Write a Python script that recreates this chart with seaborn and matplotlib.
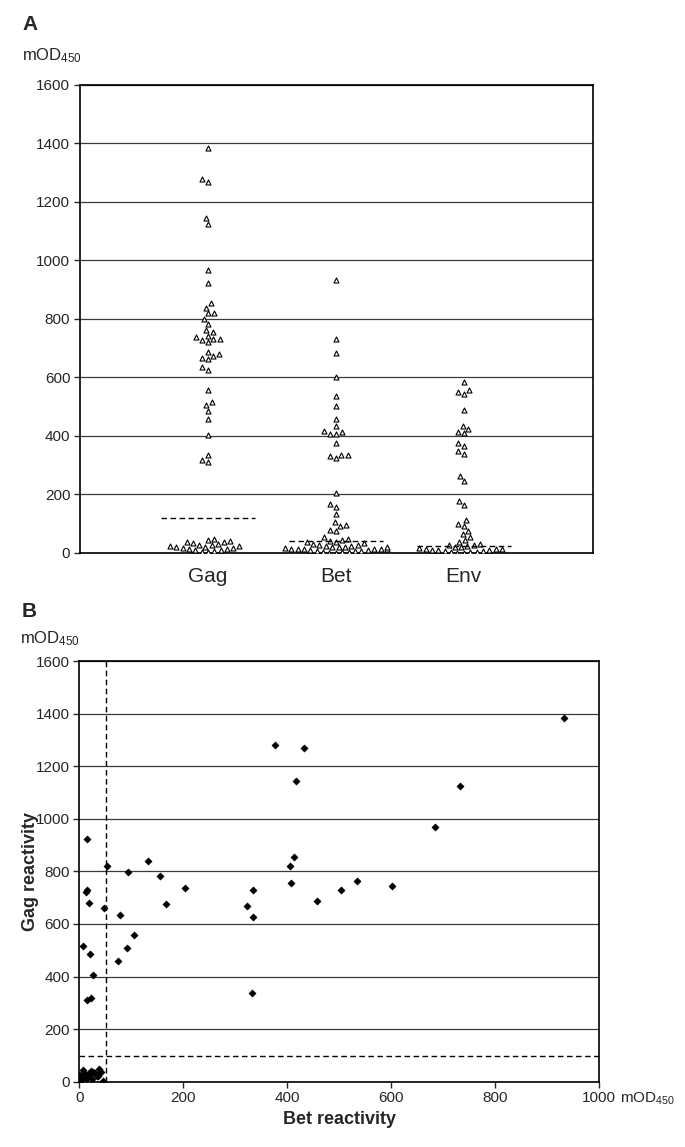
import matplotlib
matplotlib.use('Agg')
import pandas as pd
import matplotlib.pyplot as plt
import seaborn as sns

# paired Gag / Bet reactivity per serum (mOD450)
gag_reactivity = [1385, 1280, 1270, 1145, 1125, 967, 922, 853, 839, 819, 819, 799, 783,
                  763, 757, 743, 738, 731, 731, 728, 720, 688, 681, 675, 668, 662, 635,
                  625, 557, 517, 507, 487, 458, 405, 336, 319, 311,
                  12, 5, 18, 28, 9, 40, 22, 33, 15, 48, 7, 25, 36, 11, 44, 20, 30, 3,
                  16, 38, 26, 23]
bet_reactivity = [934, 377, 433, 418, 733, 684, 14, 414, 132, 406, 54, 94, 156,
                  535, 408, 602, 204, 334, 15, 503, 12, 458, 19, 166, 323, 48, 78,
                  334, 106, 7, 92, 21, 75, 27, 332, 23, 14,
                  4, 0, 9, 16, 2, 22, 7, 29, 12, 38, 3, 19, 42, 25, 6, 33, 10, 45,
                  14, 27, 1, 36]
env_reactivity = [586, 557, 550, 545, 489, 435, 425, 415, 410, 375, 365, 350, 340,
                  262, 245, 178, 165, 112, 100, 92, 75, 65, 55, 45, 38,
                  1, 6, 12, 3, 18, 9, 24, 0, 15, 5, 21, 28, 10, 32, 7, 14, 4, 19,
                  26, 11]
antigens = ['Gag', 'Bet', 'Env']
cutoffs_a = [119, 40, 25]
gag_cutoff_b = 99
bet_cutoff_b = 52

sns.set_style('ticks')
plt.rcParams['font.family'] = ['Liberation Sans', 'DejaVu Sans']
plt.rcParams['mathtext.default'] = 'regular'

long = pd.DataFrame({
    'antigen': ['Gag'] * len(gag_reactivity) + ['Bet'] * len(bet_reactivity) + ['Env'] * len(env_reactivity),
    'mod': gag_reactivity + bet_reactivity + env_reactivity,
})
pairs = pd.DataFrame({'bet': bet_reactivity, 'gag': gag_reactivity})

fig = plt.figure(figsize=(6.85, 11.47), dpi=100)
ax_a = fig.add_axes([0.1168, 0.5179, 0.749, 0.408])
ax_b = fig.add_axes([0.116, 0.0569, 0.758, 0.3668])

grid_kw = dict(color='#3a3a3a', linewidth=0.9)
dash = (0, (4, 2.5))

# panel A
sns.swarmplot(data=long, x='antigen', y='mod', order=antigens, marker='^', size=3.6,
              color='white', edgecolor='black', linewidth=0.8, ax=ax_a, warn_thresh=1)
for i, c in enumerate(cutoffs_a):
    ax_a.hlines(c, i - 0.37, i + 0.37, colors='black', linestyles=dash, linewidth=1.0, zorder=3)
ax_a.set_xlim(-1, 3.01)
ax_a.set_ylim(0, 1600)
ax_a.set_yticks(range(0, 1601, 200))
ax_a.yaxis.grid(True, **grid_kw)
ax_a.set_axisbelow(True)
ax_a.set_xlabel('')
ax_a.set_ylabel('')
ax_a.tick_params(axis='x', length=0, labelsize=15, pad=10)
ax_a.tick_params(axis='y', length=4, width=1, labelsize=11, pad=3)

# panel B
sns.scatterplot(data=pairs, x='bet', y='gag', marker='D', s=14, color='black',
                edgecolor='black', linewidth=0.3, ax=ax_b, zorder=3)
ax_b.axhline(gag_cutoff_b, color='black', linestyle=dash, linewidth=1.0)
ax_b.axvline(bet_cutoff_b, color='black', linestyle=dash, linewidth=1.0)
ax_b.set_xlim(0, 1000)
ax_b.set_ylim(0, 1600)
ax_b.set_xticks(range(0, 1001, 200))
ax_b.set_yticks(range(0, 1601, 200))
ax_b.yaxis.grid(True, **grid_kw)
ax_b.set_axisbelow(True)
ax_b.tick_params(axis='both', length=4, width=1, labelsize=11, pad=3)
ax_b.set_xlabel('Bet reactivity', fontsize=13, fontweight='bold', labelpad=4)
ax_b.set_ylabel('Gag reactivity', fontsize=13, fontweight='bold')
ax_b.yaxis.set_label_coords(-0.078, 0.5)

for ax in (ax_a, ax_b):
    for sp in ax.spines.values():
        sp.set_visible(True)
        sp.set_color('black')
        sp.set_linewidth(1.2)

fig.text(22 / 685, 1 - 30 / 1147, 'A', fontsize=15, fontweight='bold', va='baseline')
fig.text(22 / 685, 1 - 60 / 1147, r'mOD$_{450}$', fontsize=12, va='baseline')
fig.text(22 / 685, 1 - 617 / 1147, 'B', fontsize=15, fontweight='bold', va='baseline')
fig.text(20 / 685, 1 - 643 / 1147, r'mOD$_{450}$', fontsize=12, va='baseline')
fig.text(620 / 685, 1 - 1103 / 1147, r'mOD$_{450}$', fontsize=11, va='baseline')

fig.savefig('out.png', dpi=100)
